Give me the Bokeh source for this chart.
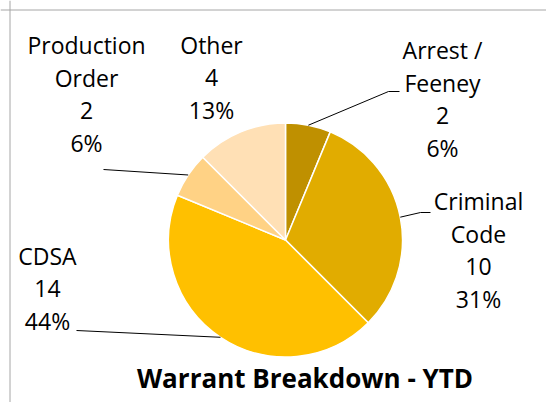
import math
from bokeh.plotting import figure
from bokeh.models import Range1d, Span, ColumnDataSource
from bokeh.core.properties import value
from bokeh.embed import file_html
from bokeh.resources import INLINE

# ---- data ----
categories = ["Arrest /\nFeeney", "Criminal\nCode", "CDSA", "Production\nOrder", "Other"]
counts = [2, 10, 14, 2, 4]
colors = ["#BF9000", "#E1AC00", "#FFC000", "#FFD285", "#FFE0B5"]
title_text = "Warrant Breakdown - YTD"

# ---- layout (pixel-like coordinates, image space) ----
W, H = 546, 402
def X(xi):
    return xi
def Y(yi):
    return H - yi

center_img = (285, 239.5)
radius = 117
label_pos = [(442, 60), (478, 211), (47, 266), (86, 55), (211, 55)]   # center x, first baseline
line_step = 32.5
leader_tail = [[(388, 91), (399, 91)], [(420, 212), (430, 212)], [(76, 330)], [(103, 169)], None]
FONT = "Open Sans"
LABEL_SIZE = 23
TITLE_SIZE = 26
BASE_SHIFT = 0.45  # compensation of rendered baseline (em)

p = figure(width=W, height=H, output_backend="svg", toolbar_location=None,
           x_range=Range1d(0, W), y_range=Range1d(0, H), min_border=0)
p.axis.visible = False
p.grid.visible = False
p.outline_line_color = None
p.background_fill_color = "white"
p.border_fill_color = "white"

# frame of the chart area (cropped)
p.add_layout(Span(location=X(9.5), dimension="height", line_color="#A6A6A6", line_width=1))
p.add_layout(Span(location=Y(9.5), dimension="width", line_color="#A6A6A6", line_width=1))

total = sum(counts)
starts, ends, mids = [], [], []
a = math.pi / 2
for c in counts:
    span = 2 * math.pi * c / total
    starts.append(a - span)
    ends.append(a)
    mids.append(a - span / 2)
    a -= span

cx, cy = X(center_img[0]), Y(center_img[1])
src = ColumnDataSource(dict(start=starts, end=ends, color=colors))
p.wedge(x=cx, y=cy, radius=radius, start_angle="start", end_angle="end",
        fill_color="color", line_color="white", line_width=1.5, source=src)

# leader lines
for m, tail in zip(mids, leader_tail):
    if tail is None:
        continue
    xs = [cx + radius * math.cos(m)] + [X(t[0]) for t in tail]
    ys = [cy + radius * math.sin(m)] + [Y(t[1]) for t in tail]
    p.line(xs, ys, line_color="#000000", line_width=1)

# labels
tx, ty, tt = [], [], []
for name, c, (lx, ly) in zip(categories, counts, label_pos):
    pct = math.floor(100 * c / total + 0.5)
    lines = name.split("\n") + [str(c), f"{pct}%"]
    for i, s in enumerate(lines):
        tx.append(X(lx))
        ty.append(Y(ly + i * line_step - BASE_SHIFT * LABEL_SIZE))
        tt.append(s)
p.text(x=tx, y=ty, text=tt, text_align="center", text_baseline="alphabetic",
       text_font=value(FONT), text_font_size=value(f"{LABEL_SIZE}px"), text_color="#000000")

p.text(x=[X(304.5)], y=[Y(389 - BASE_SHIFT * TITLE_SIZE)], text=[title_text], text_align="center",
       text_baseline="alphabetic", text_font=value(FONT), text_font_size=value(f"{TITLE_SIZE}px"),
       text_font_style="bold", text_color="#000000")

open("out.html", "w").write(file_html(p, INLINE))
